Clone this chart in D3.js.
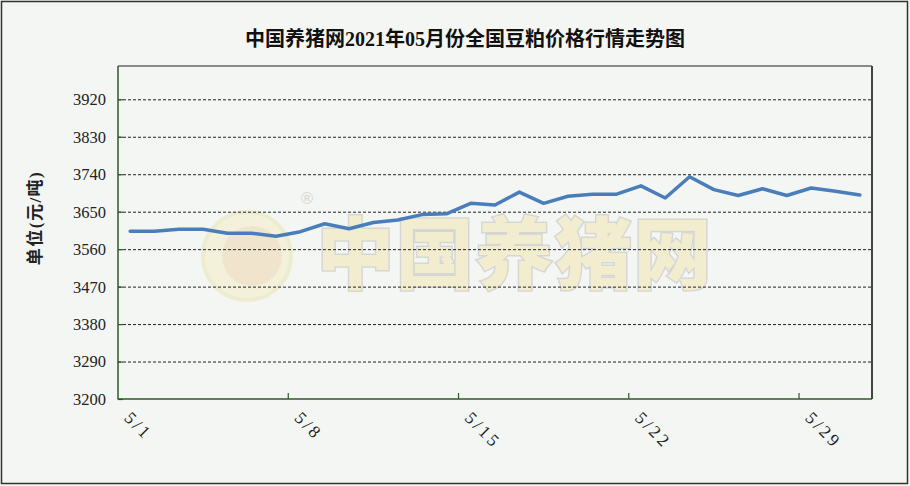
<!DOCTYPE html>
<html><head><meta charset="utf-8">
<script src="https://cdn.jsdelivr.net/npm/d3@7"></script>
<style>html,body{margin:0;padding:0;background:#f4f6f3;}</style>
</head><body>
<svg id="chart" width="910" height="486"></svg>
<script>
const titleText = "中国养猪网2021年05月份全国豆粕价格行情走势图";
const yAxisTitle = "单位(元/吨)";
const dates = ["5/1","5/2","5/3","5/4","5/5","5/6","5/7","5/8","5/9","5/10","5/11","5/12","5/13","5/14","5/15","5/16","5/17","5/18","5/19","5/20","5/21","5/22","5/23","5/24","5/25","5/26","5/27","5/28","5/29","5/30","5/31"];
const prices = [3603,3603,3608,3608,3598,3598,3591,3602,3621,3609,3624,3630,3643,3645,3670,3666,3697,3670,3687,3692,3692,3712,3683,3734,3703,3689,3705,3689,3707,3699,3690];
const yTicks = [3200,3290,3380,3470,3560,3650,3740,3830,3920];
const xLabels = ["5/1","5/8","5/15","5/22","5/29"];
const yDomain = [3200, 4000];

const svg = d3.select("#chart");
const W = 910, H = 486;
const m = {left:118, right:872, top:66, bottom:399};
const serif = "'Liberation Serif','DejaVu Serif','Noto Sans CJK SC',serif";

svg.append("rect").attr("x",0).attr("y",0).attr("width",W).attr("height",H).attr("fill","#f4f6f3");
svg.append("rect").attr("x",1.5).attr("y",1.5).attr("width",W-4).attr("height",H-4)
  .attr("fill","none").attr("stroke","#333").attr("stroke-width",1.5);

// watermark
const wm = svg.append("g").attr("opacity",0.32);
wm.append("circle").attr("cx",247).attr("cy",256).attr("r",44).attr("fill","#f1e7a8").attr("stroke","#e3d98a").attr("stroke-width",4);
wm.append("circle").attr("cx",252).attr("cy",256).attr("r",30).attr("fill","#e8c47c");
wm.append("text").attr("x",299).attr("y",204).attr("font-size",16).attr("fill","#999").attr("font-family","'DejaVu Sans'").text("®");
wm.append("text").attr("x",514).attr("y",283).attr("text-anchor","middle")
  .attr("font-family","'Noto Sans CJK SC'").attr("font-weight",900).attr("font-size",78)
  .attr("fill","#f3dc85").attr("stroke","#999").attr("stroke-width",3).attr("paint-order","stroke")
  .attr("textLength",395).text("中国养猪网");

const x = d3.scaleBand().domain(dates).range([m.left, m.right]).padding(0);
const y = d3.scaleLinear().domain(yDomain).range([m.bottom, m.top]);
const cx = d => x(d) + x.bandwidth()/2;

// gridlines
svg.append("g").selectAll("line").data(yTicks.filter(t=>t>yDomain[0])).join("line")
  .attr("x1",m.left).attr("x2",m.right).attr("y1",d=>y(d)+0.5).attr("y2",d=>y(d)+0.5)
  .attr("stroke","#222").attr("stroke-width",1).attr("stroke-dasharray","3,2");

// plot frame top & right
svg.append("line").attr("x1",m.left).attr("x2",m.right).attr("y1",m.top).attr("y2",m.top).attr("stroke","#666").attr("stroke-width",1.5);
svg.append("line").attr("x1",m.right).attr("x2",m.right).attr("y1",m.top).attr("y2",m.bottom).attr("stroke","#444").attr("stroke-width",2);

// y axis
const yAxis = d3.axisRight(y).tickValues(yTicks).tickSize(5).tickFormat("");
const gy = svg.append("g").attr("transform",`translate(${m.left},0)`).call(yAxis);
gy.select(".domain").remove();
gy.selectAll(".tick line").attr("stroke","#2d5a27").attr("stroke-width",1.2);
svg.append("line").attr("x1",m.left).attr("x2",m.left).attr("y1",m.top).attr("y2",m.bottom+0.5).attr("stroke","#2d5a27").attr("stroke-width",1.5);
svg.append("g").selectAll("text").data(yTicks).join("text")
  .attr("x",106).attr("y",d=>y(d)).attr("dy","0.36em").attr("text-anchor","end")
  .attr("font-family",serif).attr("font-size",16.5).attr("fill","#222").text(d=>d);

// x axis
const boundaryTicks = xLabels.slice(1).map(l => x(l));
svg.append("line").attr("x1",m.left).attr("x2",m.right).attr("y1",m.bottom).attr("y2",m.bottom).attr("stroke","#2d5a27").attr("stroke-width",1.5);
svg.append("g").selectAll("line").data(boundaryTicks).join("line")
  .attr("x1",d=>d).attr("x2",d=>d).attr("y1",m.bottom).attr("y2",m.bottom-6)
  .attr("stroke","#2d5a27").attr("stroke-width",1.2);
svg.append("g").selectAll("text").data(xLabels).join("text")
  .attr("transform",d=>`translate(${cx(d)-7},${m.bottom+20}) rotate(45)`)
  .attr("font-family",serif).attr("font-size",17.5).attr("letter-spacing",3).attr("fill","#222").text(d=>d);

// line
const line = d3.line().x((d,i)=>cx(dates[i])).y(d=>y(d));
svg.append("path").datum(prices).attr("d",line).attr("fill","none")
  .attr("stroke","#4a7ebb").attr("stroke-width",3.5).attr("stroke-linejoin","round").attr("stroke-linecap","round");

// titles
svg.append("text").attr("x",465).attr("y",46).attr("text-anchor","middle")
  .attr("font-family",serif).attr("font-size",20).attr("font-weight","bold").attr("fill","#111").text(titleText);
svg.append("text").attr("transform","translate(41,218) rotate(-90)").attr("text-anchor","middle")
  .attr("font-family",serif).attr("font-size",17).attr("letter-spacing",1.5).attr("font-weight","bold").attr("fill","#222").text(yAxisTitle);
</script>
</body></html>
